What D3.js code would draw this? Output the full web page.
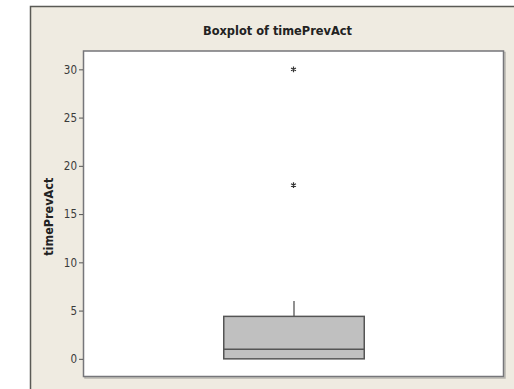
<!DOCTYPE html>
<html>
<head>
<meta charset="utf-8">
<script src="https://cdn.jsdelivr.net/npm/d3@7"></script>
<style>
  html, body { margin: 0; padding: 0; background: #ffffff; }
  svg { display: block; }
</style>
</head>
<body>
<svg id="chart" width="514" height="389"></svg>
<script>
// Summary statistics for timePrevAct
const variableName = "timePrevAct";
const quartiles = [0, 1, 4.4];        // Q1, median, Q3
const whiskers = [0, 6];              // lower and upper whisker ends
const outliers = [18, 30];
const yTicks = [0, 5, 10, 15, 20, 25, 30];
const yDomain = [-1.83, 31.9];

const svg = d3.select("#chart");
const W = 514, H = 389;
const plot = { left: 83.5, top: 51, right: 503.5, bottom: 376.5 };
const condensed = "'Liberation Sans Narrow', 'DejaVu Sans Condensed', 'Arial Narrow', sans-serif";

// beige graph window
svg.append("rect")
  .attr("x", 30.5).attr("y", 6.5)
  .attr("width", W).attr("height", H)
  .attr("fill", "#efebe1");
svg.append("path")
  .attr("d", `M30.5,${H} V6.5 H${W}`)
  .attr("fill", "none").attr("stroke", "#5a5a55").attr("stroke-width", 1.5);

// title
svg.append("text")
  .attr("x", 277.5).attr("y", 35)
  .attr("text-anchor", "middle")
  .attr("font-family", condensed)
  .attr("font-weight", "bold")
  .attr("font-size", 13)
  .attr("textLength", 149)
  .attr("lengthAdjust", "spacingAndGlyphs")
  .attr("fill", "#222")
  .text("Boxplot of " + variableName);

// plot area with shadowed frame
svg.append("rect")
  .attr("x", plot.left + 1.5).attr("y", plot.top + 1.5)
  .attr("width", plot.right - plot.left).attr("height", plot.bottom - plot.top)
  .attr("fill", "none").attr("stroke", "#b9b7b0").attr("stroke-width", 1.5);
svg.append("rect")
  .attr("x", plot.left).attr("y", plot.top)
  .attr("width", plot.right - plot.left).attr("height", plot.bottom - plot.top)
  .attr("fill", "#ffffff").attr("stroke", "#76767a").attr("stroke-width", 1.5);

const y = d3.scaleLinear().domain(yDomain).range([plot.bottom, plot.top]);
const boxWidth = 140.5;
const cx = 294;

// y axis
const axis = d3.axisLeft(y).tickValues(yTicks).tickSize(4).tickPadding(2).tickFormat(d3.format("d"));
const gAxis = svg.append("g").attr("transform", `translate(${plot.left - 0.5},0)`).call(axis);
gAxis.select(".domain").remove();
gAxis.selectAll(".tick line").attr("stroke", "#555").attr("stroke-width", 1);
gAxis.selectAll(".tick text")
  .attr("font-family", condensed)
  .attr("font-size", 11.5)
  .attr("fill", "#3a3a3a");

// y axis title
svg.append("text")
  .attr("transform", `translate(53,${(plot.top + plot.bottom) / 2 + 3}) rotate(-90)`)
  .attr("text-anchor", "middle")
  .attr("font-family", condensed)
  .attr("font-weight", "bold")
  .attr("font-size", 12.5)
  .attr("fill", "#222")
  .text(variableName);

// box
const g = svg.append("g");
g.append("line")
  .attr("x1", cx).attr("x2", cx)
  .attr("y1", y(quartiles[2])).attr("y2", y(whiskers[1]))
  .attr("stroke", "#555").attr("stroke-width", 1.3);
g.append("line")
  .attr("x1", cx).attr("x2", cx)
  .attr("y1", y(quartiles[0])).attr("y2", y(whiskers[0]))
  .attr("stroke", "#555").attr("stroke-width", 1.3);
g.append("rect")
  .attr("x", cx - boxWidth / 2).attr("width", boxWidth)
  .attr("y", y(quartiles[2])).attr("height", y(quartiles[0]) - y(quartiles[2]))
  .attr("fill", "#c0c0c0").attr("stroke", "#555").attr("stroke-width", 1.5);
g.append("line")
  .attr("x1", cx - boxWidth / 2).attr("x2", cx + boxWidth / 2)
  .attr("y1", y(quartiles[1])).attr("y2", y(quartiles[1]))
  .attr("stroke", "#555").attr("stroke-width", 1.5);

// outliers
const sym = d3.symbol().type(d3.symbolAsterisk).size(22);
g.selectAll("path.outlier").data(outliers).enter().append("path")
  .attr("class", "outlier")
  .attr("transform", d => `translate(${cx - 0.5},${y(d)})`)
  .attr("d", sym)
  .attr("fill", "none").attr("stroke", "#333").attr("stroke-width", 1.2);
</script>
</body>
</html>
